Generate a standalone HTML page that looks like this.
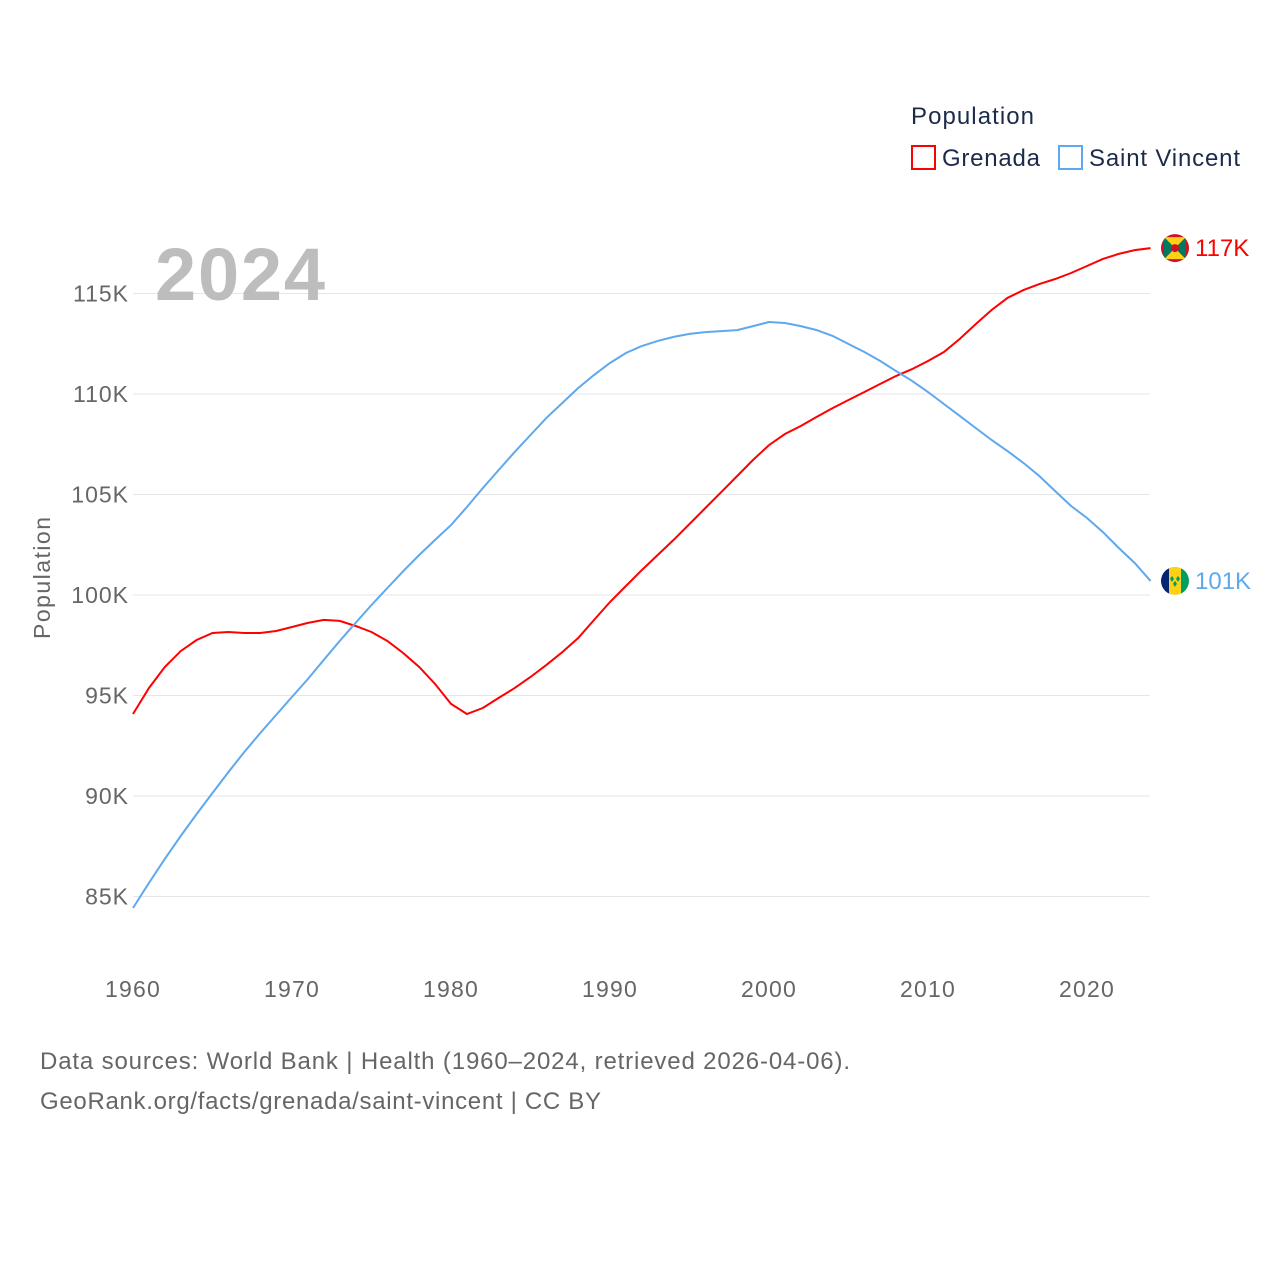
<!DOCTYPE html>
<html><head><meta charset="utf-8"><style>
body{margin:0;background:#fff;width:1280px;height:1280px;overflow:hidden;font-family:"Liberation Sans",sans-serif}
</style></head><body>
<svg width="1280" height="1280">
<g id="grid"></g>
<g id="yticks" font-size="23" fill="#666" text-anchor="end" letter-spacing="1"></g>
<g id="xticks" font-size="23" fill="#666" text-anchor="middle" letter-spacing="1.2"></g>
<text x="240" y="300" font-size="74" font-weight="bold" fill="#bdbdbd" text-anchor="middle" textLength="170">2024</text>
<text transform="translate(50,578) rotate(-90)" font-size="23" fill="#666" text-anchor="middle" textLength="122">Population</text>
<g id="lines"></g>
<g>
<text x="911" y="124" font-size="24" fill="#1c2b4a" textLength="123">Population</text>
<rect x="912" y="146" width="23" height="23" fill="none" stroke="#f00" stroke-width="2"/>
<text x="942" y="166" font-size="24" fill="#1c2b4a" textLength="98">Grenada</text>
<rect x="1059" y="146" width="23" height="23" fill="none" stroke="#5ea8ef" stroke-width="2"/>
<text x="1089" y="166" font-size="24" fill="#1c2b4a" textLength="151">Saint Vincent</text>
</g>
<g id="ends"></g>
<text x="40" y="1069" font-size="24" fill="#666" textLength="810">Data sources: World Bank | Health (1960–2024, retrieved 2026-04-06).</text>
<text x="40" y="1109" font-size="24" fill="#666" textLength="561">GeoRank.org/facts/grenada/saint-vincent | CC BY</text>
</svg>
<script>
const years=[];for(let y=1960;y<=2024;y++)years.push(y);
const yTicks=[85,90,95,100,105,110,115];
const yTickLabels=["85K","90K","95K","100K","105K","110K","115K"];
const xTicks=[1960,1970,1980,1990,2000,2010,2020];
const grenada=[94.08,95.37,96.42,97.21,97.76,98.11,98.16,98.11,98.11,98.21,98.41,98.61,98.76,98.71,98.46,98.16,97.71,97.11,96.42,95.57,94.58,94.08,94.38,94.88,95.37,95.92,96.52,97.16,97.86,98.76,99.65,100.45,101.24,101.99,102.74,103.53,104.33,105.12,105.92,106.72,107.46,108.01,108.41,108.86,109.30,109.70,110.10,110.50,110.90,111.24,111.64,112.09,112.74,113.48,114.18,114.78,115.17,115.47,115.72,116.02,116.37,116.72,116.97,117.16,117.26];
const svincent=[84.43,85.67,86.87,88.01,89.10,90.15,91.19,92.19,93.13,94.03,94.93,95.82,96.77,97.71,98.61,99.50,100.35,101.19,101.99,102.74,103.48,104.38,105.32,106.22,107.11,107.96,108.81,109.55,110.30,110.95,111.54,112.04,112.39,112.64,112.84,112.99,113.08,113.13,113.18,113.38,113.58,113.53,113.38,113.18,112.89,112.49,112.09,111.64,111.14,110.65,110.10,109.50,108.91,108.31,107.71,107.16,106.57,105.92,105.17,104.43,103.83,103.13,102.34,101.59,100.70];
const endLabels=["117K","101K"];
const NS="http://www.w3.org/2000/svg";
const X=y=>133+(y-1960)*15.9;
const Y=v=>595-(v-100)*20.1;
function mk(t,a,p){const e=document.createElementNS(NS,t);for(const k in a)e.setAttribute(k,a[k]);p.appendChild(e);return e;}
const grid=document.getElementById('grid'),yt=document.getElementById('yticks'),xt=document.getElementById('xticks');
yTicks.forEach((v,i)=>{
 const l=mk('line',{x1:133,x2:1150,y1:Y(v),y2:Y(v),stroke:'#e6e6e6'},grid);
 
 
 const t=mk('text',{x:129,y:Y(v)+8},yt);t.textContent=yTickLabels[i];
 
 
});
xTicks.forEach(v=>{
 const t=mk('text',{x:X(v),y:997},xt);t.textContent=v;
 
 
});
const lines=document.getElementById('lines');
[[grenada,'#f00','grenada-line'],[svincent,'#5ea8ef','saint-vincent-line']].forEach(([d,c,n])=>{
 const p=mk('path',{d:d.map((v,i)=>(i?'L':'M')+X(years[i]).toFixed(1)+','+Y(v).toFixed(1)).join(''),fill:'none',stroke:c,'stroke-width':2},lines);
 
 
});
const ends=document.getElementById('ends');
const lastI=years.length-1;
let gy=Y(grenada[lastI]),cx=1175;
let g=mk('g',{},ends);


const cp1=mk('clipPath',{id:'c1'},g);mk('circle',{cx:cx,cy:gy,r:14},cp1);
const g2=mk('g',{'clip-path':'url(#c1)'},g);
mk('rect',{x:cx-15,y:gy-15,width:30,height:30,fill:'#ce1126'},g2);
mk('polygon',{points:`${cx-11},${gy-11} ${cx+11},${gy-11} ${cx},${gy} ${cx+11},${gy+11} ${cx-11},${gy+11} ${cx},${gy}`,fill:'#fcd116'},g2);
mk('polygon',{points:`${cx-11},${gy-11} ${cx},${gy} ${cx-11},${gy+11}`,fill:'#007a5e'},g2);
mk('polygon',{points:`${cx+11},${gy-11} ${cx},${gy} ${cx+11},${gy+11}`,fill:'#007a5e'},g2);
mk('circle',{cx:cx,cy:gy,r:4,fill:'#ce1126'},g2);
let t=mk('text',{x:1195,y:gy+8,'font-size':24,fill:'#f00'},ends);t.textContent=endLabels[0];


let sy=Y(svincent[lastI]);
g=mk('g',{},ends);


const cp=mk('clipPath',{id:'c2'},g);mk('circle',{cx:cx,cy:sy,r:14},cp);
const s2=mk('g',{'clip-path':'url(#c2)'},g);
mk('rect',{x:cx-15,y:sy-15,width:10,height:30,fill:'#002674'},s2);
mk('rect',{x:cx-6,y:sy-15,width:13,height:30,fill:'#fcd116'},s2);
mk('rect',{x:cx+6,y:sy-15,width:10,height:30,fill:'#009e60'},s2);
[[-3,-2],[3,-2],[0,3]].forEach(([dx,dy])=>mk('polygon',{points:`${cx+dx},${sy+dy-3} ${cx+dx+2},${sy+dy} ${cx+dx},${sy+dy+3} ${cx+dx-2},${sy+dy}`,fill:'#009e60'},s2));
t=mk('text',{x:1195,y:sy+8,'font-size':24,fill:'#5ea8ef'},ends);t.textContent=endLabels[1];


</script>
</body></html>
